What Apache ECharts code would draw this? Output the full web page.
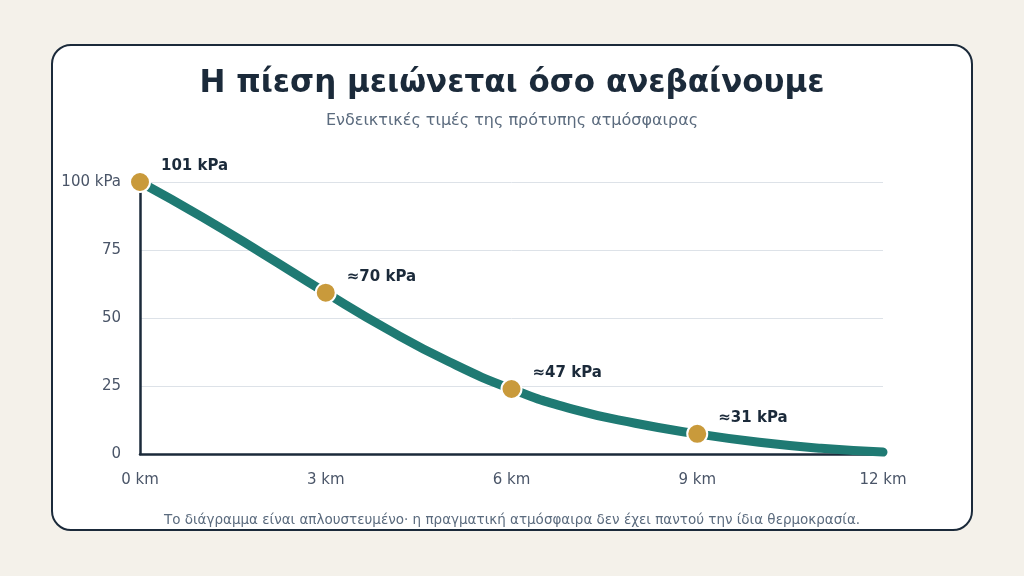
<!DOCTYPE html>
<html>
<head>
<meta charset="utf-8">
<script src="https://cdn.jsdelivr.net/npm/echarts@6/dist/echarts.min.js"></script>
<style>
  html, body { margin: 0; padding: 0; background: #f4f1ea; }
  .card {
    position: absolute; left: 51px; top: 44px; width: 918px; height: 483px;
    background: #fff; border: 2px solid #1b2a3a; border-radius: 20px;
  }
  #chart { position: absolute; left: 0; top: 0; width: 1024px; height: 576px; }
</style>
</head>
<body>
<div class="card"></div>
<div id="chart"></div>
<script>
// υψόμετρο (km) και τιμές όπως σχεδιάζονται στην καμπύλη
var altitudes = [0, 1, 2, 3, 4, 5, 6, 7, 8, 9, 10, 11, 12];
var curveValues = [100, 87.2, 73.4, 59.3, 45.8, 33.8, 23.9, 16.4, 11.3, 7.4, 4.3, 2.1, 0.7];
// σημεία με ετικέτα
var markedKm = [0, 3, 6, 9];
var markedLabels = ['101 kPa', '≈70 kPa', '≈47 kPa', '≈31 kPa'];
var xTicks = [0, 3, 6, 9, 12];
var yTicks = [0, 25, 50, 75, 100];

var myChart = echarts.init(document.getElementById('chart'));

var lineData = altitudes.map(function (km, i) {
  var idx = markedKm.indexOf(km);
  if (idx < 0) {
    return { value: [km, curveValues[i]], symbol: 'none' };
  }
  return {
    value: [km, curveValues[i]],
    symbol: 'circle',
    label: { show: true, formatter: markedLabels[idx] }
  };
});

var option = {
  animation: false,
  textStyle: { fontFamily: 'DejaVu Sans' },
  title: [{
    text: 'Η πίεση μειώνεται όσο ανεβαίνουμε',
    left: 'center', top: 63,
    textStyle: { fontSize: 31, fontWeight: 'bold', color: '#1b2a3a', fontFamily: 'DejaVu Sans' }
  }, {
    text: 'Ενδεικτικές τιμές της πρότυπης ατμόσφαιρας',
    left: 'center', top: 108,
    textStyle: { fontSize: 16, fontWeight: 'normal', color: '#5b6b7e', fontFamily: 'DejaVu Sans' }
  }, {
    text: 'Το διάγραμμα είναι απλουστευμένο· η πραγματική ατμόσφαιρα δεν έχει παντού την ίδια θερμοκρασία.',
    left: 'center', top: 508,
    textStyle: { fontSize: 13.5, fontWeight: 'normal', color: '#5b6b7e', fontFamily: 'DejaVu Sans' }
  }],
  grid: { left: 140, right: 141, top: 182, bottom: 122 },
  xAxis: {
    type: 'value', min: 0, max: 12, interval: 3,
    axisLine: { lineStyle: { color: '#1b2a3a', width: 2.5 } },
    axisTick: { show: false },
    splitLine: { show: false },
    axisLabel: {
      color: '#4a5568', fontSize: 15, margin: 19,
      formatter: function (v) { return xTicks.indexOf(v) >= 0 ? v + ' km' : ''; }
    }
  },
  yAxis: {
    type: 'value', min: 0, max: 100, interval: 25,
    axisLine: { show: true, lineStyle: { color: '#1b2a3a', width: 2.5 } },
    axisTick: { show: false },
    splitLine: { lineStyle: { color: '#dde2e8', width: 1 } },
    axisLabel: {
      color: '#4a5568', fontSize: 15, margin: 19,
      formatter: function (v) {
        if (yTicks.indexOf(v) < 0) return '';
        return v === 100 ? '100 kPa' : String(v);
      }
    }
  },
  series: [{
    type: 'line',
    data: lineData,
    smooth: 0.5,
    showAllSymbol: true,
    symbolSize: 20,
    lineStyle: { color: '#1f7a73', width: 9, cap: 'round' },
    itemStyle: { color: '#c99a3b', borderColor: '#fff', borderWidth: 2 },
    label: {
      show: false, position: 'right', distance: 10, offset: [0, -16],
      color: '#1b2a3a', fontSize: 15, fontWeight: 'bold', fontFamily: 'DejaVu Sans'
    },
    z: 3
  }]
};
myChart.setOption(option);
</script>
</body>
</html>
